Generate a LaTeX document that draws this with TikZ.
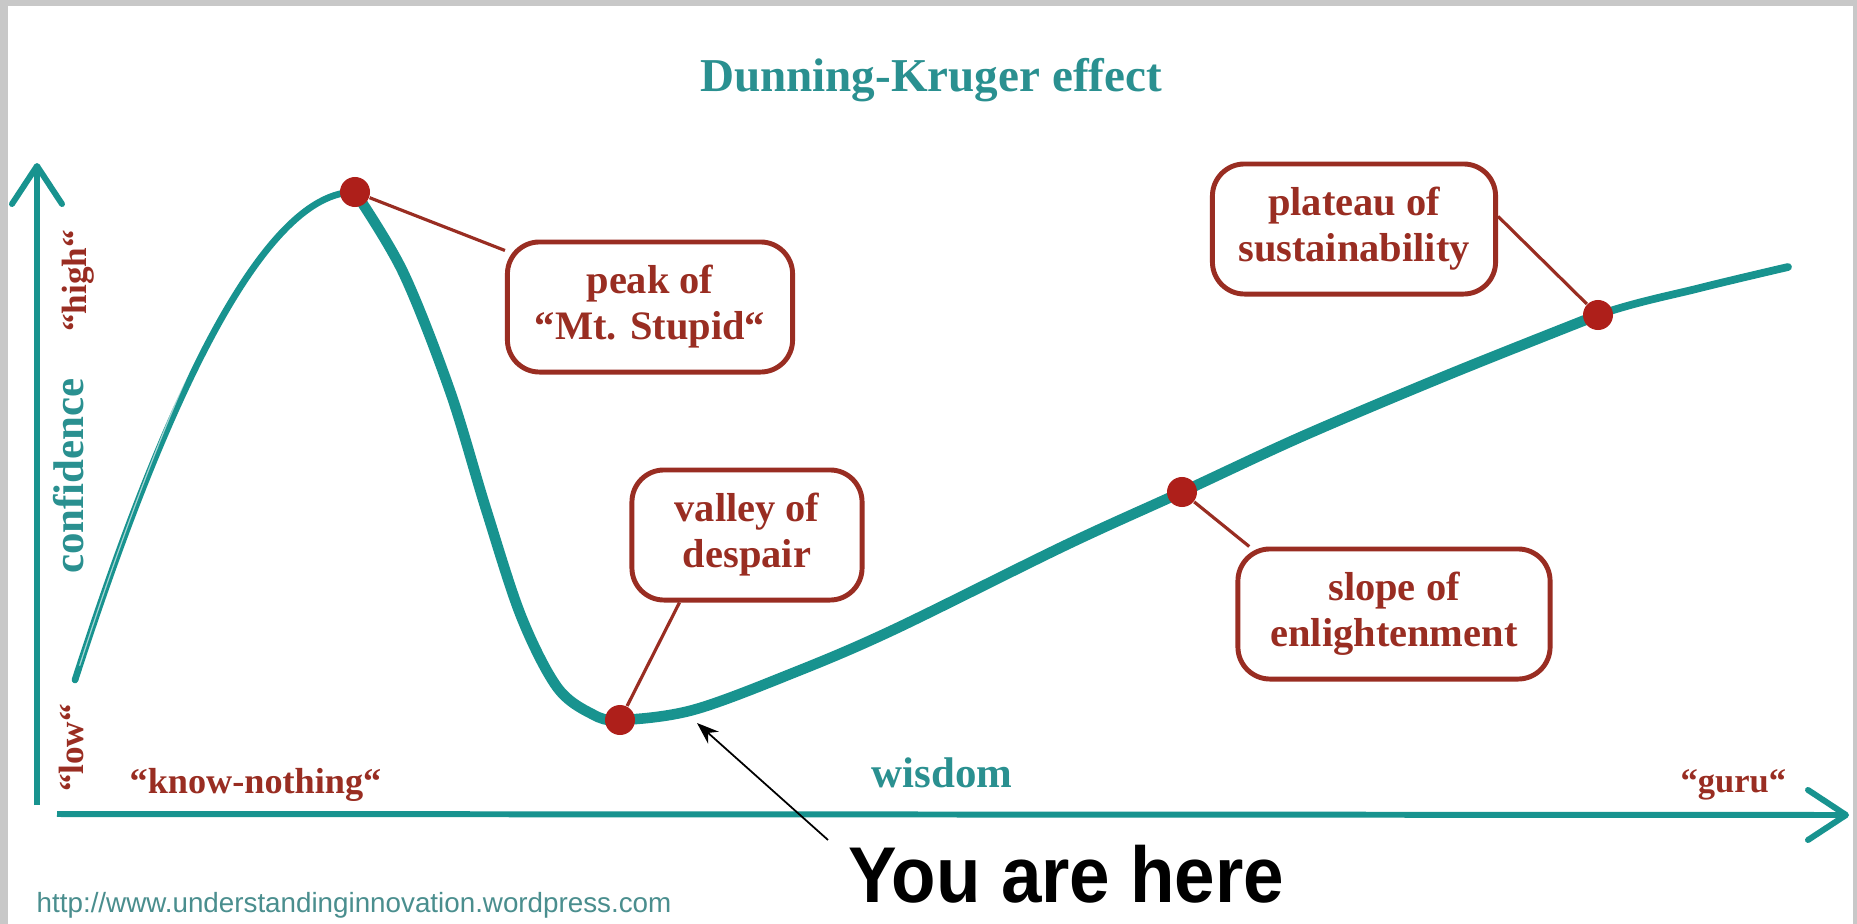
\documentclass[tikz,border=0pt]{standalone}
\usepackage{fontspec}
\setmainfont{Liberation Serif}
\newfontfamily\urlfont{Liberation Sans}
\newfontfamily\herefont[FakeStretch=0.92]{Liberation Sans}
\usepackage{xcolor}
\usetikzlibrary{arrows.meta,positioning,calc}
\definecolor{curvecol}{HTML}{18938F}
\definecolor{tealtext}{HTML}{2A9090}
\definecolor{rust}{HTML}{992D22}
\definecolor{dotred}{HTML}{AE1F1A}
\definecolor{urlgrey}{HTML}{4A8E8E}
\definecolor{frame}{HTML}{C8C8C8}

\begin{document}
\begin{tikzpicture}[
  x=0.01cm, y=-0.01cm,
  box/.style={draw=rust, line width=1.4pt, rounded corners=0.32cm, align=center, text=rust,
    font=\bfseries\fontsize{11.5}{13.1}\selectfont, minimum height=1.3cm, inner sep=0pt},
  dot/.style={circle, fill=dotred, minimum size=0.3cm, inner sep=0pt},
  pin/.style={draw=rust, line width=0.9pt},
  axis/.style={draw=curvecol, line width=1.7pt, -{Straight Barb[length=3.8mm, width=5mm, round]}},
  lbl/.style={text=rust, font=\bfseries\fontsize{10}{12}\selectfont, inner sep=0pt},
  tlbl/.style={text=tealtext, font=\bfseries\fontsize{12.2}{14}\selectfont, inner sep=0pt},
  curveline/.style={draw=curvecol, line cap=round, line join=round},
  pointer/.style={-{Stealth[length=2.2mm, width=1.6mm]}, line width=0.5pt, draw=black}
]
% frame and canvas
\useasboundingbox (0,0) rectangle (1857,924);
\fill[frame] (0,0) rectangle (1857,924);
\fill[white] (8,6) rectangle (1853,924);

% axes
\coordinate (ybot) at (37,805);
\coordinate (ytop) at (37,163);
\coordinate (xleft) at (57,814);
\coordinate (xright) at (1849,815);
\draw[axis] (ybot) -- (ytop);
\draw[axis] (xleft) -- (xright);

% points on the curve
\coordinate (start) at (75,680);
\coordinate (peak) at (355,192);
\coordinate (valley) at (620,720);
\coordinate (slope) at (1182,492);
\coordinate (plateau) at (1598,315);

% rising branch, thin with a light streak
\draw[curveline, line width=1.9pt] (start) .. controls (135,494) and (245,192) .. (peak);
\draw[white, opacity=0.6, line width=0.35pt, shorten <=0.15cm, shorten >=0.35cm]
  (start) .. controls (135,494) and (245,192) .. (peak);
% falling branch and long climb
\draw[curveline, line width=3pt] plot[smooth, tension=0.55] coordinates
  {(peak) (403,272) (450,391) (486,509) (521,616) (557,687) (592,714) (valley)
   (693,710) (793,673) (893,630) (1066,545) (slope) (1303,436) (1450,374) (plateau)};
\draw[curveline, line width=2.2pt] plot[smooth, tension=0.55] coordinates
  {(1450,374) (plateau) (1700,288) (1788,267)};

% title and axis labels
\node[text=tealtext, font=\bfseries\fontsize{13.4}{16}\selectfont, anchor=base] (title) at (931,91) {Dunning-Kruger effect};
\node[tlbl, rotate=90, anchor=base] (conf) at (83,476) {confidence};
\node[lbl, rotate=90, anchor=base] (high) at (86,281) {“high“};
\node[lbl, rotate=90, anchor=base] (low) at (83,748) {“low“};
\node[lbl, font=\bfseries\fontsize{10.3}{12}\selectfont, anchor=base west] (know) at (129,793) {“know-nothing“};
\node[tlbl, anchor=base west] (wisdom) at (871,787) {wisdom};
\node[lbl, font=\bfseries\fontsize{9.8}{12}\selectfont, anchor=base west] (guru) at (1680,792) {“guru“};
\node[text=urlgrey, font=\urlfont\fontsize{7.9}{9}\selectfont, inner sep=0pt, anchor=base west] (url) at (36,912)
  {http://www.understandinginnovation.wordpress.com};

% boxes
\node[box, minimum width=2.85cm] (peakbox) at (650,307) {peak of\\“Mt. Stupid“};
\node[box, minimum width=2.30cm] (valleybox) at (747,535) {valley of\\despair};
\node[box, minimum width=3.12cm] (slopebox) at (1394,614) {slope of\\enlightenment};
\node[box, minimum width=2.83cm] (platbox) at (1354,229) {plateau of\\sustainability};

% dots and pins
\node[dot] (peakdot) at (peak) {};
\node[dot] (valleydot) at (valley) {};
\node[dot] (slopedot) at (slope) {};
\node[dot] (platdot) at (plateau) {};
\draw[pin] (peakdot) -- (peakbox);
\draw[pin] (valleydot) -- (valleybox.225);
\draw[pin] (slopedot) -- (slopebox.155);
\draw[pin] (platdot) -- (platbox.5);

% you are here
\node[font=\herefont\bfseries\fontsize{22.5}{26}\selectfont, inner xsep=0.2cm, inner ysep=0.04cm, anchor=base west]
  (here) at (828,902) {You are here};
\coordinate (herept) at (697,723);
\draw[pointer] (here.north west) -- (herept);
\end{tikzpicture}
\end{document}
